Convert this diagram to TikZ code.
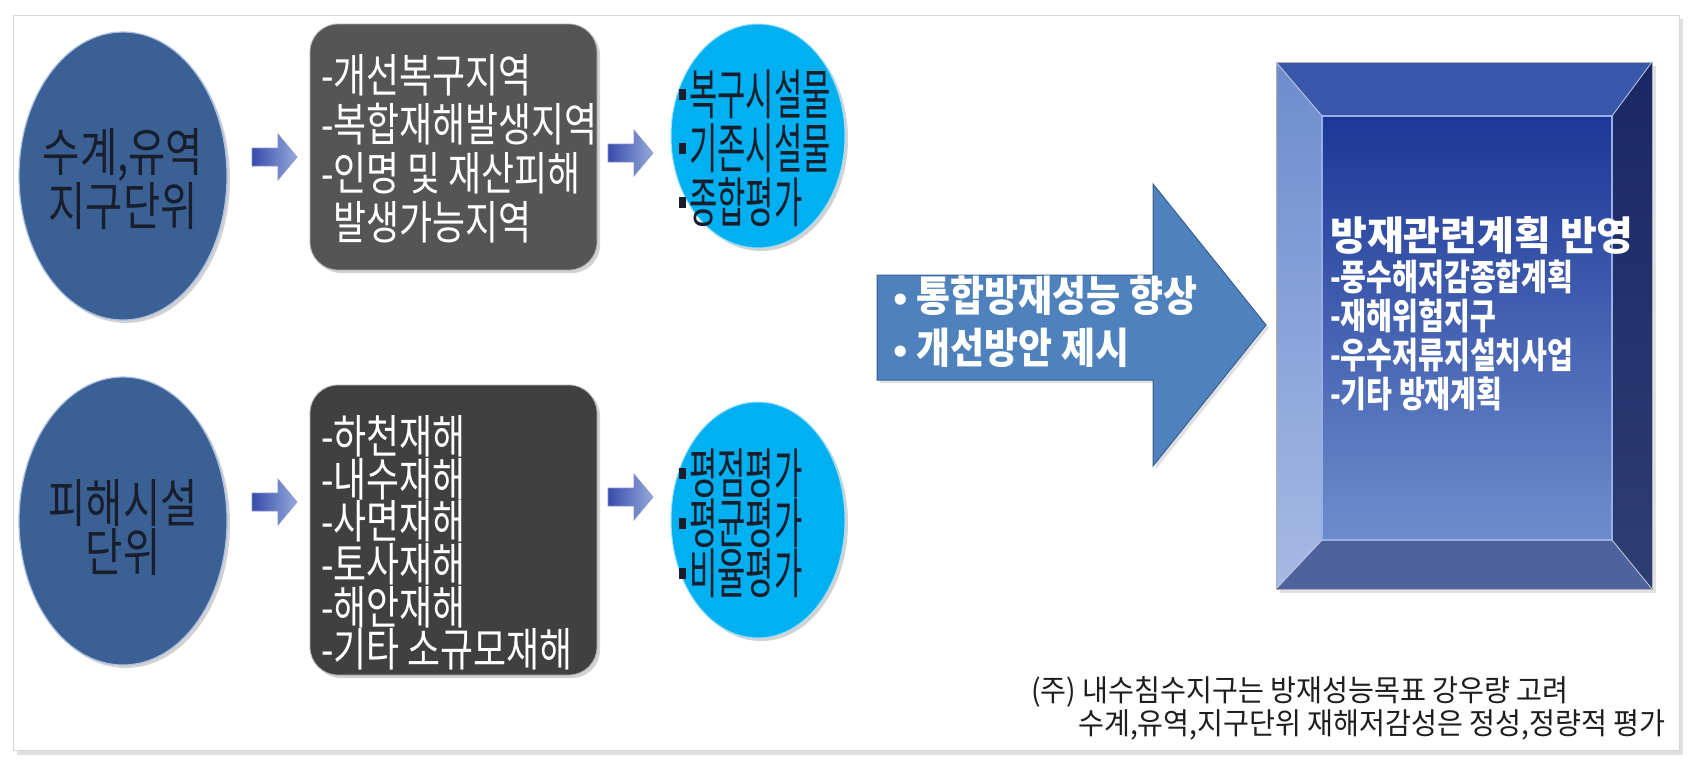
\documentclass[tikz,border=0pt]{standalone}
\usepackage{fontspec}
\usetikzlibrary{shapes.geometric,shadows}
\newfontfamily\krA[FakeStretch=0.78]{Noto Sans CJK KR}
\newfontfamily\krB[FakeStretch=0.57]{Noto Sans CJK KR}
\newfontfamily\krC[FakeStretch=0.88]{Noto Sans CJK KR}
\newfontfamily\krN[FakeStretch=0.94]{Noto Sans CJK KR}
\newfontfamily\krP{Noto Sans CJK KR}
\newfontfamily\dejavu{DejaVu Sans}
\definecolor{ellblue}{RGB}{58,96,148}
\definecolor{ellrim}{RGB}{170,190,225}
\definecolor{boxA}{RGB}{85,85,85}
\definecolor{boxB}{RGB}{64,64,64}
\definecolor{cyanc}{RGB}{0,176,240}
\definecolor{darktxt}{RGB}{25,30,45}
\definecolor{bigarrow}{RGB}{79,129,189}
\definecolor{bigarrowdraw}{RGB}{55,95,150}
\definecolor{sarrowA}{RGB}{55,75,170}
\definecolor{sarrowB}{RGB}{150,170,220}
\definecolor{bevTop}{RGB}{58,88,170}
\definecolor{bevLeftA}{RGB}{110,140,205}
\definecolor{bevLeftB}{RGB}{165,185,228}
\definecolor{bevRightA}{RGB}{25,40,100}
\definecolor{bevRightB}{RGB}{45,62,115}
\definecolor{bevBot}{RGB}{78,98,155}
\definecolor{innerTop}{RGB}{28,55,150}
\definecolor{innerBot}{RGB}{110,140,205}
\definecolor{innerRim}{RGB}{150,175,230}
\definecolor{framegray}{RGB}{215,215,215}
\definecolor{notetxt}{RGB}{30,30,30}
\tikzset{
  softshadow/.style={drop shadow={shadow xshift=3pt, shadow yshift=-3pt, fill=gray, opacity=0.35}},
  unitell/.style={ellipse, fill=ellblue, draw=ellrim, line width=1.2pt, minimum width=208, minimum height=288, inner sep=0pt, softshadow},
  listbox/.style={rectangle, rounded corners=28pt, minimum width=287, inner sep=0pt, draw=gray!60, line width=0.8pt, softshadow},
  evalcirc/.style={ellipse, fill=cyanc, draw=cyanc!40!white, line width=1pt, inner sep=0pt, softshadow},
  sarrow/.style={left color=sarrowA, right color=sarrowB, draw=sarrowA!60!white, line width=0.6pt},
  elltext/.style={text=darktxt, align=center, font=\krA\fontsize{52}{49}\selectfont},
  listtext/.style={text=white, align=left, anchor=west, inner sep=0pt},
  evaltext/.style={text=darktxt, align=left, anchor=west, inner sep=0pt, font=\krB\fontsize{54}{54}\selectfont},
  bevtext/.style={text=white, align=left, anchor=west, inner sep=0pt},
}
\newcommand\smallblockarrow[2]{\shade[sarrow] (#1,#2-9) -- (#1+26,#2-9) -- (#1+26,#2-23) -- (#1+45,#2) -- (#1+26,#2+23) -- (#1+26,#2+9) -- (#1,#2+9) -- cycle;}
\newcommand\sqbullet{\rule[14pt]{7pt}{11pt}\hspace{3pt}}
\newcommand\dotbullet{{\dejavu\fontsize{32}{32}\selectfont •}\hspace{6pt}}
\begin{document}
\begin{tikzpicture}[x=1pt,y=-1pt]
\useasboundingbox (0,0) rectangle (1693,766);
% frame
\fill[gray!25] (17,19) rectangle (1683,755);
\draw[framegray, fill=white, line width=1pt] (13,15) rectangle (1679,750);

% left unit ellipses
\node[unitell] (ellA) at (123,176) {};
\node[elltext] (ellAt) at (123,179) {수계,유역\\지구단위};
\node[unitell] (ellB) at (123,521) {};
\node[elltext] (ellBt) at (123,528) {피해시설\\단위};

% small arrows
\smallblockarrow{252}{157}
\smallblockarrow{608}{153}
\smallblockarrow{252}{502}
\smallblockarrow{608}{497}

% list boxes
\node[listbox, fill=boxA, minimum height=246] (boxA) at (453.5,147) {};
\node[listtext, font=\krA\fontsize{46}{49}\selectfont] (boxAt) at (321,149)
  {-개선복구지역\\-복합재해발생지역\\-인명 및 재산피해\\\hspace*{12pt}발생가능지역};
\node[listbox, fill=boxB, minimum height=290] (boxB) at (453.5,530) {};
\node[listtext, font=\krA\fontsize{46}{41.3}\selectfont] (boxBt) at (321,543)
  {-하천재해\\-내수재해\\-사면재해\\-토사재해\\-해안재해\\-기타 소규모재해};

% evaluation circles
\node[evalcirc, minimum width=174, minimum height=224] (circA) at (758,136) {};
\node[evaltext] (circAt) at (679,148) {\sqbullet 복구시설물\\\sqbullet 기존시설물\\\sqbullet 종합평가};
\node[evalcirc, minimum width=174, minimum height=236] (circB) at (758,520) {};
\node[evaltext, font=\krB\fontsize{54}{47}\selectfont] (circBt) at (679,523) {\sqbullet 평점평가\\\sqbullet 평균평가\\\sqbullet 비율평가};

% big arrow
\fill[gray!40, opacity=0.6] (880,278) -- (1156,278) -- (1156,187) -- (1269,328) -- (1156,469) -- (1156,383) -- (880,383) -- cycle;
\filldraw[fill=bigarrow, draw=bigarrowdraw, line width=1pt] (877,275) -- (1153,275) -- (1153,184) -- (1266,325) -- (1153,466) -- (1153,380) -- (877,380) -- cycle;
\node[bevtext, font=\krC\bfseries\fontsize{42}{52}\selectfont] (arrowt) at (890,322) {\dotbullet 통합방재성능 향상\\\dotbullet 개선방안 제시};

% bevel box
\coordinate (otl) at (1276,62);
\coordinate (otr) at (1652,62);
\coordinate (obl) at (1276,589);
\coordinate (obr) at (1652,589);
\coordinate (itl) at (1322,116);
\coordinate (itr) at (1612,116);
\coordinate (ibl) at (1322,540);
\coordinate (ibr) at (1612,540);
\fill[gray!40, opacity=0.6] (1280,66) rectangle (1656,593);
\fill[bevTop] (otl) -- (otr) -- (itr) -- (itl) -- cycle;
\shade[top color=bevLeftA, bottom color=bevLeftB] (otl) -- (itl) -- (ibl) -- (obl) -- cycle;
\shade[top color=bevRightA, bottom color=bevRightB] (otr) -- (obr) -- (ibr) -- (itr) -- cycle;
\fill[bevBot] (obl) -- (ibl) -- (ibr) -- (obr) -- cycle;
\shade[top color=innerTop, bottom color=innerBot] (itl) rectangle (ibr);
\draw[innerRim, line width=2pt] (itl) rectangle (ibr);
\draw[white!70!bevTop, line width=0.8pt] (otl) -- (itl) (otr) -- (itr) (obl) -- (ibl) (obr) -- (ibr);
\draw[gray!60, line width=0.8pt] (otl) rectangle (obr);
\node[bevtext, font=\krP\bfseries\fontsize{40}{44}\selectfont] (bevtitle) at (1330,235) {방재관련계획 반영};
\node[bevtext, font=\krA\bfseries\fontsize{36}{39}\selectfont] (bevlist) at (1330,335)
  {-풍수해저감종합계획\\-재해위험지구\\-우수저류지설치사업\\-기타 방재계획};

% note
\node[anchor=west, align=left, inner sep=0pt, text=notetxt, font=\krN\fontsize{30}{33}\selectfont] (note) at (1031,708)
  {(주) 내수침수지구는 방재성능목표 강우량 고려\\\hspace*{47pt}수계,유역,지구단위 재해저감성은 정성,정량적 평가};
\end{tikzpicture}
\end{document}
